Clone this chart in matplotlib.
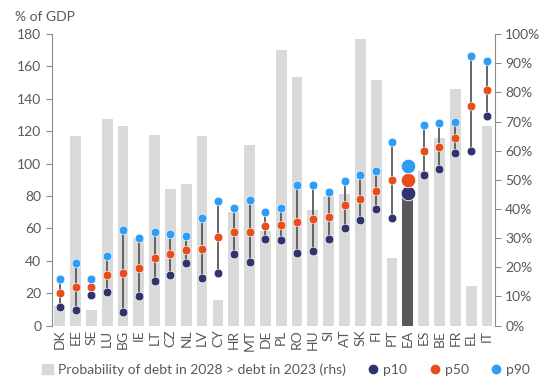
import numpy as np
import matplotlib
matplotlib.use('agg')
import matplotlib.pyplot as plt
from matplotlib.patches import Patch
from matplotlib.lines import Line2D

countries = ['DK', 'EE', 'SE', 'LU', 'BG', 'IE', 'LT', 'CZ', 'NL', 'LV', 'CY', 'HR', 'MT', 'DE',
             'PL', 'RO', 'HU', 'SI', 'AT', 'SK', 'FI', 'PT', 'EA', 'ES', 'BE', 'FR', 'EL', 'IT']
p10 = [11.7, 9.9, 18.7, 20.6, 8.4, 18.1, 27.4, 31.3, 38.7, 29.2, 32.3, 43.9, 39.3, 53.5,
       52.7, 44.5, 46.3, 53.3, 60.1, 65.3, 72.1, 66.7, 81.8, 92.9, 96.4, 106.7, 107.9, 129.7]
p50 = [20.0, 23.5, 23.9, 31.3, 32.7, 35.4, 41.8, 43.9, 46.7, 47.0, 54.4, 57.7, 57.7, 61.6,
       62.0, 64.0, 65.5, 67.3, 74.5, 78.3, 83.4, 89.6, 89.8, 107.7, 110.4, 116.1, 135.3, 145.6]
p90 = [28.6, 38.5, 28.8, 43.0, 58.9, 54.2, 57.7, 56.8, 55.2, 66.5, 77.0, 72.7, 77.4, 70.0,
       72.3, 86.7, 86.7, 82.6, 89.4, 92.7, 95.6, 113.5, 98.6, 123.8, 124.8, 126.0, 166.2, 163.1]
prob = [6.7, 64.9, 5.4, 70.8, 68.6, 30.2, 65.3, 47.0, 48.4, 64.9, 8.8, 39.1, 62.0, 32.6,
        94.4, 85.2, 39.7, 44.5, 45.1, 98.4, 84.4, 23.1, 44.0, 53.0, 64.5, 81.0, 13.6, 68.3]

grey_txt = '#595959'
c10, c50, c90 = '#2f3470', '#e84e1b', '#2e9df5'
plt.rcParams['font.family'] = ['Lato', 'DejaVu Sans']

fig = plt.figure(figsize=(5.45, 3.83), dpi=100)
ax = fig.add_axes([0.095, 0.150, 0.813, 0.761])
ax2 = ax.twinx()
ax.set_zorder(ax2.get_zorder() + 1)
ax.patch.set_visible(False)

x = np.arange(len(countries))
ea = countries.index('EA')
bar_cols = ['#595959' if c == 'EA' else '#d9d9d9' for c in countries]
ax2.bar(x, prob, width=0.68, color=bar_cols)

ax.vlines(x, p10, p90, color='#595959', lw=1.3, zorder=2)
small = [i for i in x if i != ea]
for vals, col in [(p10, c10), (p50, c50), (p90, c90)]:
    v = np.array(vals)
    ax.plot(x[small], v[small], 'o', ms=6.2, color=col, mec='white', mew=0.4, ls='none', zorder=3)
    ax.plot([ea], [v[ea]], 'o', ms=10.5, color=col, mec='white', mew=0.6, ls='none', zorder=3)

ax.set_xlim(-0.5, len(countries) - 0.5)
ax.set_ylim(0, 180)
ax.set_yticks(np.arange(0, 181, 20))
ax2.set_ylim(0, 100)
ax2.set_yticks(np.arange(0, 101, 10))
ax2.set_yticklabels(['%d%%' % v for v in range(0, 101, 10)])
ax.set_xticks(x)
ax.set_xticklabels(countries, rotation=90)

for a in (ax, ax2):
    for s in ('top', 'bottom'):
        a.spines[s].set_visible(False)
    a.spines['left'].set_color('#8c8c8c')
    a.spines['right'].set_color('#8c8c8c')
    a.tick_params(colors=grey_txt, labelsize=10, length=4, width=0.8)
ax.spines['right'].set_visible(False)
ax2.spines['left'].set_visible(False)
ax.tick_params(axis='x', length=0, pad=3)
ax.tick_params(axis='y', color='#8c8c8c')
ax2.tick_params(axis='y', color='#8c8c8c')

fig.text(0.028, 0.955, '% of GDP', color=grey_txt, fontsize=10, va='center')

handles = [Patch(color='#d9d9d9'),
           Line2D([], [], marker='o', ls='none', color=c10, ms=6),
           Line2D([], [], marker='o', ls='none', color=c50, ms=6),
           Line2D([], [], marker='o', ls='none', color=c90, ms=6)]
labels = ['Probability of debt in 2028 > debt in 2023 (rhs)', 'p10', 'p50', 'p90']
fig.legend(handles, labels, loc='center', bbox_to_anchor=(0.525, 0.035), ncol=4, frameon=False,
           fontsize=10, labelcolor=grey_txt, handlelength=0.8, handletextpad=0.3,
           columnspacing=1.6, handleheight=0.8)

fig.savefig('out.png', dpi=100)
